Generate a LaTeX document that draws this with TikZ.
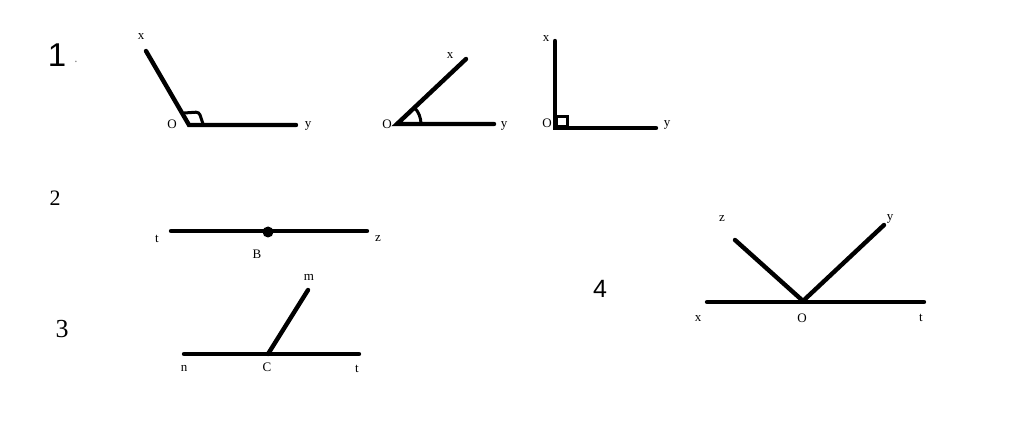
\documentclass[tikz,border=0pt]{standalone}
\usepackage{fontspec}
\setmainfont{Liberation Serif}
\newfontfamily\numsans{Liberation Sans}
\begin{document}
\begin{tikzpicture}[x=1pt,y=-1pt,
  ray/.style={line width=4.4pt,line cap=round},
  anglemark/.style={line width=3pt},
  lab/.style={font=\fontsize{13}{15}\selectfont,inner sep=0pt},
  num/.style={font=\fontsize{24}{28}\selectfont,inner sep=0pt},
  numsf/.style={font=\numsans\fontsize{24}{28}\selectfont,inner sep=0pt}]
  \useasboundingbox (0,0) rectangle (1024,443);
  % item numbers
  \node[numsf,font=\numsans\fontsize{33}{36}\selectfont] (one) at (57,55) {1};
  \node[lab,gray] (dot) at (76,62) {.};
  \node[num,font=\fontsize{22}{26}\selectfont] (two) at (55,198) {2};
  \node[num,font=\fontsize{26}{30}\selectfont] (three) at (62,329) {3};
  \node[numsf,font=\numsans\fontsize{25}{28}\selectfont] (four) at (600,289) {4};
  % 1: obtuse angle
  \coordinate (Oa) at (189,125);
  \coordinate (Xa) at (146,51);
  \coordinate (Ya) at (296,125);
  \draw[ray] (Xa) -- (Oa) -- (Ya);
  \draw[anglemark,rounded corners=3pt] (184,113) -- (199,112) -- (203,124);
  % 1: acute angle
  \coordinate (Ob) at (397,124);
  \coordinate (Xb) at (466,59);
  \coordinate (Yb) at (494,124);
  \draw[ray] (Xb) -- (Ob) -- (Yb);
  \draw[anglemark] (421,124) arc[start angle=0,end angle=-43,radius=24];
  % 1: right angle
  \coordinate (Oc) at (555,128);
  \coordinate (Xc) at (555,41);
  \coordinate (Yc) at (656,128);
  \draw[ray] (Xc) -- (Oc) -- (Yc);
  \draw[anglemark] (556,117) rectangle (567,127);
  \foreach \lab/\pos in {x/{141,37},O/{172,124},y/{308,126},
                         x/{450,56},O/{387,124},y/{504,126},
                         x/{546,39},O/{547,123},y/{667,125}}
    \node[lab] at (\pos) {\lab};
  % 2: point on a line
  \coordinate (T2) at (171,231);
  \coordinate (Z2) at (367,231);
  \draw[ray] (T2) -- (Z2);
  \fill (268,232) circle[radius=5.5];
  \node[lab] (t2) at (157,239) {t};
  \node[lab] (z2) at (378,239) {z};
  \node[lab] (B) at (257,254) {B};
  % 3: ray on a line
  \coordinate (N3) at (184,354);
  \coordinate (T3) at (359,354);
  \coordinate (C3) at (268,354);
  \coordinate (M3) at (308,290);
  \draw[ray] (N3) -- (T3);
  \draw[ray] (C3) -- (M3);
  \node[lab] (n3) at (184,368) {n};
  \node[lab] (C) at (267,367) {C};
  \node[lab] (t3) at (357,369) {t};
  \node[lab] (m3) at (309,277) {m};
  % 4: two rays on a line
  \coordinate (X4) at (707,302);
  \coordinate (T4) at (924,302);
  \coordinate (O4) at (803,301);
  \coordinate (Z4) at (735,240);
  \coordinate (Y4) at (884,225);
  \draw[ray] (X4) -- (T4);
  \draw[ray] (Z4) -- (O4) -- (Y4);
  \node[lab] (z4) at (722,219) {z};
  \node[lab] (y4) at (890,219) {y};
  \node[lab] (x4) at (698,319) {x};
  \node[lab] (O) at (802,318) {O};
  \node[lab] (t4) at (921,318) {t};
\end{tikzpicture}
\end{document}
